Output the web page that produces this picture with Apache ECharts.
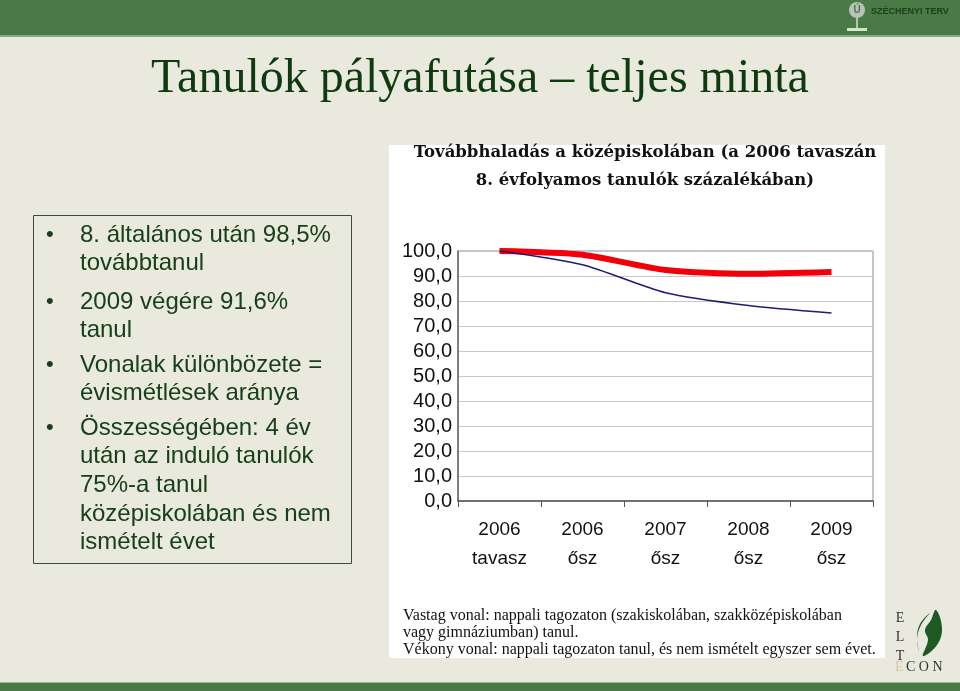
<!DOCTYPE html>
<html><head><meta charset="utf-8">
<script src="https://cdn.jsdelivr.net/npm/echarts@6/dist/echarts.min.js"></script>
<style>html,body{margin:0;padding:0;background:#e9e9dd}#c{width:960px;height:691px}</style>
</head><body><div id="c"></div>
<script>
const categories = ['2006\ntavasz', '2006\nősz', '2007\nősz', '2008\nősz', '2009\nősz'];
const thickLine = [100, 98.5, 92.4, 90.9, 91.6];
const thinLine = [100, 94.5, 83.3, 78.2, 75.2];
const yTicks = { min: 0, max: 100, interval: 10 };

const slideTitle = 'Tanulók pályafutása – teljes minta';
const chartTitle = ['Továbbhaladás a középiskolában (a 2006 tavaszán', '8. évfolyamos tanulók százalékában)'];
const footnotes = ['Vastag vonal: nappali tagozaton (szakiskolában, szakközépiskolában', 'vagy gimnáziumban) tanul.', 'Vékony vonal: nappali tagozaton tanul, és nem ismételt egyszer sem évet.'];
const bullets = [
  ['8. általános után 98,5%', 'továbbtanul'],
  ['2009 végére 91,6%', 'tanul'],
  ['Vonalak különbözete =', 'évismétlések aránya'],
  ['Összességében: 4 év', 'után az induló tanulók', '75%-a tanul', 'középiskolában és nem', 'ismételt évet']
];

const chart = echarts.init(document.getElementById('c'));
const g = [];
// slide bands
g.push({type:'rect', z:-10, shape:{x:0,y:0,width:960,height:35}, style:{fill:'#4a7a45'}});
g.push({type:'rect', z:-10, shape:{x:0,y:35,width:960,height:2}, style:{fill:'#8aa585'}});
g.push({type:'rect', z:-10, shape:{x:0,y:683,width:960,height:8}, style:{fill:'#4a7a45'}});
g.push({type:'rect', z:-10, shape:{x:0,y:682,width:960,height:1}, style:{fill:'#9fb59b'}});
// Széchenyi logo
g.push({type:'circle', z:-5, shape:{cx:857,cy:10,r:8}, style:{fill:'#b9c2b7'}});
g.push({type:'rect', z:-5, shape:{x:856,y:17,width:2,height:12}, style:{fill:'#b9c2b7'}});
g.push({type:'rect', z:-5, shape:{x:847,y:28,width:20,height:3}, style:{fill:'#d7e6c8'}});
g.push({type:'text', z:-4, style:{x:857,y:10,text:'Ú',font:'bold 10px Liberation Sans',fill:'#4a7a45',align:'center',verticalAlign:'middle'}});
g.push({type:'text', z:-4, style:{x:871,y:12,text:'SZÉCHENYI TERV',font:'bold 9px Liberation Sans',fill:'#1d3d1c',verticalAlign:'middle'}});
// slide title
g.push({type:'text', style:{x:480,y:79,text:slideTitle,font:'48px Liberation Serif',fill:'#0e3a10',align:'center',verticalAlign:'middle'}});
// bullet box
g.push({type:'rect', shape:{x:33.5,y:215.5,width:318,height:348}, style:{fill:'none',stroke:'#3e4a3c',lineWidth:1}});
const starts = [235, 302, 365, 428];
bullets.forEach((b, i) => {
  g.push({type:'text', style:{x:46,y:starts[i],text:'•',font:'22px Liberation Sans',fill:'#17401a',verticalAlign:'middle'}});
  b.forEach((line, j) => {
    g.push({type:'text', style:{x:80,y:starts[i]+j*28.7,text:line,font:'24px Liberation Sans',fill:'#17401a',verticalAlign:'middle'}});
  });
});
// chart image background
g.push({type:'rect', z:-5, shape:{x:389,y:145,width:496,height:513}, style:{fill:'#ffffff'}});
chartTitle.forEach((t, i) => {
  g.push({type:'text', style:{x:645,y:153+i*28,text:t,font:'bold 16.5px DejaVu Serif',fill:'#111',align:'center',verticalAlign:'middle'}});
});
footnotes.forEach((t, i) => {
  g.push({type:'text', style:{x:403,y:616+i*17,text:t,font:'16px Liberation Serif',fill:'#111',verticalAlign:'middle'}});
});
// ELTECON logo
['E','L','T'].forEach((c, i) => {
  g.push({type:'text', style:{x:900,y:618+i*19,text:c,font:'14px Liberation Serif',fill:'#333',align:'center',verticalAlign:'middle'}});
});
g.push({type:'text', style:{x:895,y:667,text:'E',font:'14px Liberation Serif',fill:'#d8c79a',verticalAlign:'middle'}});
g.push({type:'text', style:{x:906,y:667,text:'C O N',font:'14px Liberation Serif',fill:'#333',verticalAlign:'middle'}});
g.push({type:'polygon', shape:{points:[[936,610],[942,628],[937,645],[923,656],[928,640],[925,630],[931,620]], smooth:0.4}, style:{fill:'#1f5a25'}});
g.push({type:'polygon', shape:{points:[[930,613],[921,625],[917,640],[919,651],[917,638],[920,624]], smooth:0.4}, style:{fill:'#1f5a25'}});

chart.setOption({
  backgroundColor: '#e9e9dd',
  animation: false,
  graphic: g,
  grid: { left: 458, top: 251, width: 415, height: 250, show: true, borderColor: '#8a8a8a', borderWidth: 1, backgroundColor: 'transparent' },
  xAxis: {
    type: 'category', data: categories, boundaryGap: true,
    axisLine: { lineStyle: { color: '#555', width: 1.5 } },
    axisTick: { show: true, inside: false, length: 6, lineStyle: { color: '#555' } },
    axisLabel: { color: '#111', fontSize: 19, fontFamily: 'Liberation Sans', lineHeight: 29, margin: 14, interval: 0 },
    splitLine: { show: false }
  },
  yAxis: {
    type: 'value', min: yTicks.min, max: yTicks.max, interval: yTicks.interval,
    axisLine: { show: true, lineStyle: { color: '#666', width: 1.5 } },
    axisTick: { show: false },
    axisLabel: { color: '#111', fontSize: 20, fontFamily: 'Liberation Sans', margin: 6, formatter: v => v.toFixed(1).replace('.', ',') },
    splitLine: { lineStyle: { color: '#c8c8c8', width: 1 } }
  },
  series: [
    { name: 'Vastag', type: 'line', data: thickLine, symbol: 'none', smooth: 0.25, lineStyle: { color: '#f0000a', width: 6 }, z: 3 },
    { name: 'Vékony', type: 'line', data: thinLine, symbol: 'none', smooth: 0.25, lineStyle: { color: '#1c1c7a', width: 1.6 }, z: 4 }
  ]
});
</script></body></html>
